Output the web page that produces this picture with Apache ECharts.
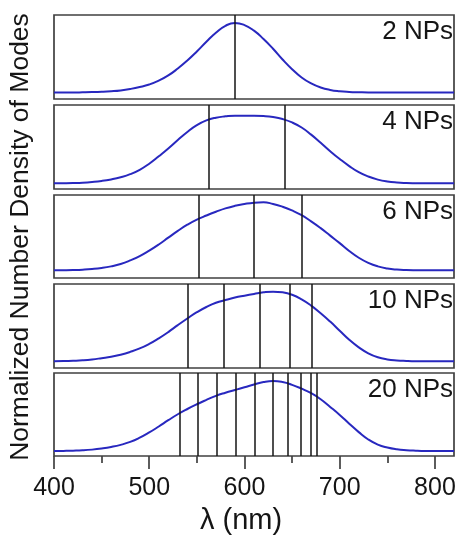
<!DOCTYPE html>
<html>
<head>
<meta charset="utf-8">
<script src="https://cdn.jsdelivr.net/npm/echarts@6/dist/echarts.min.js"></script>
<style>
html,body{margin:0;padding:0;background:#fff;}
#chart{width:459px;height:535px;}
</style>
</head>
<body>
<div id="chart"></div>
<script>
// ---- data ----
const wavelengths = [400,410,420,430,440,450,460,470,480,490,500,510,520,530,540,550,560,570,580,590,600,610,620,630,640,650,660,670,680,690,700,710,720,730,740,750,760,770,780,790,800,810,820];
const density2  = [0,0,0,0.002,0.005,0.01,0.018,0.03,0.05,0.078,0.115,0.17,0.245,0.345,0.46,0.59,0.73,0.86,0.96,1.0,0.97,0.89,0.77,0.63,0.475,0.335,0.215,0.13,0.072,0.037,0.018,0.008,0.003,0,0,0,0,0,0,0,0,0,0];
const density4  = [0,0.002,0.005,0.01,0.02,0.035,0.058,0.09,0.135,0.2,0.29,0.4,0.515,0.64,0.76,0.86,0.93,0.97,0.99,1.0,1.0,1.0,0.995,0.98,0.95,0.9,0.825,0.72,0.6,0.475,0.36,0.255,0.165,0.1,0.055,0.027,0.012,0.005,0.002,0,0,0,0];
const density6  = [0,0.002,0.005,0.01,0.019,0.034,0.058,0.093,0.145,0.21,0.29,0.38,0.48,0.58,0.67,0.745,0.805,0.86,0.91,0.948,0.975,0.994,1.0,0.975,0.935,0.88,0.81,0.72,0.62,0.51,0.4,0.285,0.185,0.11,0.058,0.027,0.011,0.004,0.001,0,0,0,0];
const density10 = [0,0.003,0.008,0.015,0.027,0.045,0.065,0.095,0.135,0.185,0.25,0.33,0.42,0.52,0.615,0.705,0.78,0.84,0.88,0.915,0.942,0.967,0.99,1.0,0.99,0.955,0.89,0.8,0.69,0.57,0.44,0.31,0.2,0.115,0.058,0.027,0.012,0.005,0.001,0,0,0,0];
const density20 = [0,0.002,0.005,0.01,0.02,0.036,0.058,0.088,0.13,0.19,0.265,0.35,0.44,0.525,0.6,0.668,0.73,0.788,0.833,0.872,0.91,0.95,0.985,1.0,0.985,0.945,0.89,0.825,0.74,0.63,0.515,0.39,0.27,0.165,0.092,0.05,0.025,0.012,0.005,0.001,0,0,0];

const modes2  = [590];
const modes4  = [562, 642];
const modes6  = [552, 610, 660];
const modes10 = [540, 578, 616, 648, 671];
const modes20 = [532, 551, 571, 591, 611, 630, 645.5, 659.6, 669.4, 676.4];

const panelLabels = ['2 NPs', '4 NPs', '6 NPs', '10 NPs', '20 NPs'];
const xMin = 400, xMax = 820, xTickMin = 400, xTickMax = 800, xTickStep = 100;
const xTitle = 'λ (nm)';
const yTitle = 'Normalized Number Density of Modes';

// ---- layout ----
const densities = [density2, density4, density6, density10, density20];
const modes = [modes2, modes4, modes6, modes10, modes20];
const tops = [15, 105, 195, 284, 373];
const heights = [84, 84, 83, 84, 83];
const yRanges = [[-0.094,1.115],[-0.084,1.158],[-0.113,1.107],[-0.096,1.11],[-0.071,1.114]];
const FONT = 'Liberation Sans, Arial, sans-serif';
const FRAME = '#404040';
const plotLeft = 54, plotWidth = 400;

const grids = [], xAxes = [], yAxes = [], series = [], titles = [];
for (let i = 0; i < 5; i++) {
  grids.push({left: plotLeft, width: plotWidth, top: tops[i], height: heights[i], show: true,
    borderColor: FRAME, borderWidth: 1.7, backgroundColor: '#fff', containLabel: false});
  xAxes.push({gridIndex: i, type: 'value', min: xMin, max: xMax, position: 'bottom',
    axisLine: {show: false}, axisTick: {show: false}, axisLabel: {show: false}, splitLine: {show: false}});
  yAxes.push({gridIndex: i, type: 'value', min: yRanges[i][0], max: yRanges[i][1], show: false});
  series.push({
    type: 'line', xAxisIndex: i, yAxisIndex: i,
    data: wavelengths.map((w, k) => [w, densities[i][k]]),
    smooth: 0.5, showSymbol: false, symbol: 'none',
    lineStyle: {color: '#2828bf', width: 2}, itemStyle: {color: '#2828bf'},
    animation: false, silent: true, z: 3,
    markLine: {silent: true, symbol: ['none','none'], animation: false,
      label: {show: false},
      lineStyle: {color: '#151515', width: 1.5, type: 'solid'},
      emphasis: {disabled: true},
      data: modes[i].map(v => ({xAxis: v}))}
  });
  titles.push({text: panelLabels[i], right: 6, top: tops[i] + 4, padding: 0,
    textStyle: {fontSize: 26, fontWeight: 'normal', color: '#151515', fontFamily: FONT}});
}
// tick/label axis: an invisible grid covering 400..800 of the bottom panel, on the same scale
const tickWidth = plotWidth * (xTickMax - xTickMin) / (xMax - xMin);
grids.push({left: plotLeft, width: tickWidth, top: tops[4], height: heights[4], show: false});
xAxes.push({gridIndex: 5, type: 'value', min: xTickMin, max: xTickMax, interval: xTickStep, position: 'bottom',
  axisLine: {show: false},
  axisTick: {show: true, length: 13, lineStyle: {color: FRAME, width: 1.7}},
  minorTick: {show: true, splitNumber: 2, length: 7, lineStyle: {color: FRAME, width: 1.7}},
  axisLabel: {show: true, fontSize: 25, color: '#151515', margin: 20, fontFamily: FONT,
    showMinLabel: true, showMaxLabel: true, hideOverlap: false},
  splitLine: {show: false}, minorSplitLine: {show: false}});
yAxes.push({gridIndex: 5, type: 'value', min: 0, max: 1, show: false});

const chart = echarts.init(document.getElementById('chart'), null, {renderer: 'canvas'});
chart.setOption({
  backgroundColor: '#fff',
  animation: false,
  title: titles,
  grid: grids,
  xAxis: xAxes,
  yAxis: yAxes,
  series: series,
  graphic: [{
    type: 'text', x: 21, y: 237, rotation: Math.PI / 2,
    style: {text: yTitle, fontSize: 26.5, fill: '#151515',
      fontFamily: FONT, align: 'center', verticalAlign: 'middle'}
  }, {
    type: 'text', x: 241, y: 521,
    style: {text: xTitle, fontSize: 29, fill: '#151515',
      fontFamily: FONT, align: 'center', verticalAlign: 'middle'}
  }]
});
</script>
</body>
</html>
